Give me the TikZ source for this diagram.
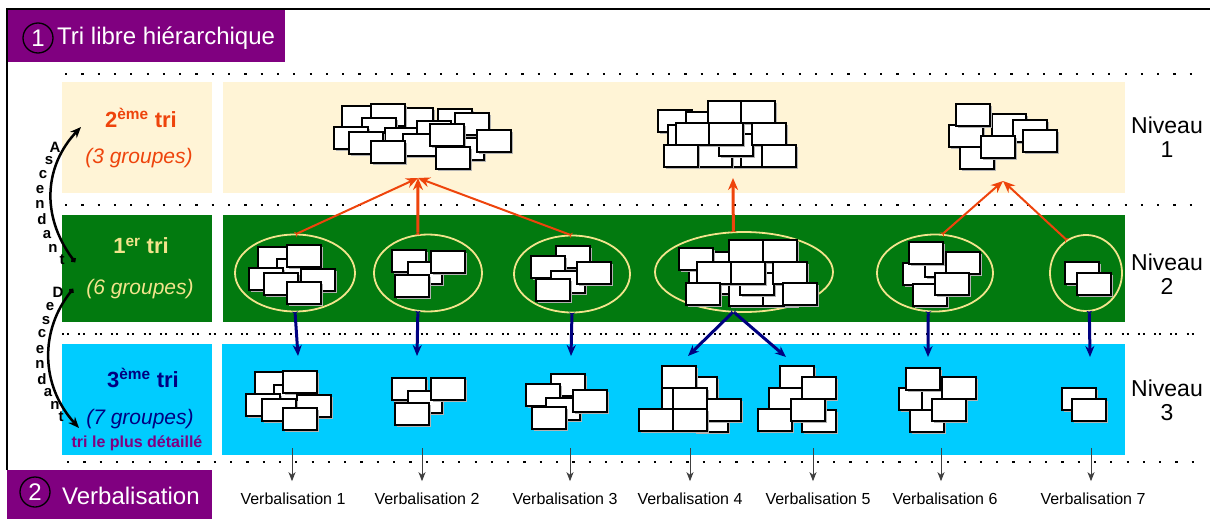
\documentclass[tikz,border=0pt]{standalone}
\usepackage{fontspec}
\setmainfont{Liberation Sans}
\usetikzlibrary{arrows.meta,shapes.geometric}

\definecolor{mauve}{RGB}{128,0,128}
\definecolor{creme}{RGB}{255,244,214}
\definecolor{vert}{RGB}{2,122,15}
\definecolor{bleuciel}{RGB}{0,204,255}
\definecolor{jaune}{RGB}{242,228,140}
\definecolor{rouge}{RGB}{238,68,12}
\definecolor{marine}{RGB}{0,0,128}

% une carte (coin haut gauche)
\def\carte(#1,#2){\fill[black!30] (#1+1.5,#2+1.5) rectangle ++(34,22); \draw[fill=white, line width=1.6pt] (#1,#2) rectangle ++(34,22);}

\tikzset{
  groupe/.style={ellipse, draw=jaune, line width=1.8pt, inner sep=0pt, outer sep=0pt},
  pointilles/.style={line width=2.2pt, dash pattern=on 2.2pt off 14.1pt},
  pointdouble/.style={line width=2.2pt, dash pattern=on 2pt off 3pt on 2pt off 9.3pt},
  rougefleche/.style={draw=rouge, line width=2pt, {Stealth[reversed,length=3pt,width=6pt]}-{Stealth[length=12pt,width=10pt]}},
  marinefleche/.style={draw=marine, line width=3pt, {Stealth[reversed,length=3pt,width=6pt]}-{Stealth[length=11pt,width=9pt]}},
  verbfleche/.style={draw=black!75, line width=1pt, -{Stealth[length=9pt,width=7pt,inset=2.5pt]}, shorten >=11pt},
  sens/.style={draw=black, line width=2.5pt, {Circle[length=5pt]}-{Stealth[length=11pt,width=9pt]}},
  lettre/.style={font=\fontsize{15}{15}\selectfont\bfseries, inner sep=0pt},
  titre/.style={text=white, font=\fontsize{24}{28}\selectfont, inner sep=0pt},
  numero/.style={circle, draw=black, line width=1.3pt, minimum size=30pt, inner sep=0pt, text=white, font=\fontsize{24}{28}\selectfont},
  tri/.style={font=\fontsize{22}{26}\selectfont\bfseries, inner sep=0pt},
  nbgroupes/.style={font=\fontsize{21}{25}\selectfont\itshape, inner sep=0pt},
  niveau/.style={align=center, font=\fontsize{23}{24}\selectfont, inner sep=0pt},
  verb/.style={font=\fontsize{16}{18}\selectfont, inner sep=0pt, anchor=base}
}

\begin{document}
\begin{tikzpicture}[x=1pt,y=-1pt]
\useasboundingbox (0,0) rectangle (1210,519);

% bandeaux
\fill[mauve] (7,8) rectangle (285,62);
\fill[mauve] (7,470) rectangle (212,519);
\draw[line width=2.2pt] (7,470) -- (7,9) -- (1210,9);
\node[numero] (n1) at (38,38) {1};
\node[titre, anchor=base west] (tit1) at (57,45) {Tri libre hiérarchique};
\node[numero] (n2) at (35,492) {2};
\node[titre, anchor=base west] (tit2) at (62,504) {Verbalisation};

% fonds des niveaux
\fill[creme] (62,82) rectangle (212,193);
\fill[creme] (223,82) rectangle (1125,193);
\fill[vert] (62,215) rectangle (212,322);
\fill[vert] (223,215) rectangle (1125,322);
\fill[bleuciel] (62,344) rectangle (212,455);
\fill[bleuciel] (222,344) rectangle (1125,455);

\draw[pointilles] (65,74) -- (1205,74);
\draw[pointilles] (65,205) -- (1205,205);
\draw[pointdouble] (62,334) -- (1200,334);
\draw[pointilles] (67,462) -- (1200,462);

% textes de gauche
\node[tri, text=rouge] (t1) at (141,118) {2\textsuperscript{ème} tri};
\node[nbgroupes, text=rouge] (t1g) at (139,158) {(3 groupes)};
\node[tri, text=jaune] (t2) at (141,246) {1\textsuperscript{er} tri};
\node[nbgroupes, text=jaune] (t2g) at (140,289) {(6 groupes)};
\node[tri, text=marine] (t3) at (143,378) {3\textsuperscript{ème} tri};
\node[nbgroupes, text=marine] (t3g) at (140,419) {(7 groupes)};
\node[font=\fontsize{16}{18}\selectfont\bfseries, text=mauve, inner sep=0pt] (t3d) at (137,443) {tri le plus détaillé};

\node[niveau] (niv1) at (1167,137) {Niveau\\1};
\node[niveau] (niv2) at (1167,274) {Niveau\\2};
\node[niveau] (niv3) at (1167,400) {Niveau\\3};

% ascendant / descendant
\draw[sens] (75,262) .. controls (40,215) and (45,165) .. (81,127);
\draw[sens] (73,289) .. controls (40,330) and (40,385) .. (79,428);
\foreach \l/\x/\y in {A/55/147, s/49/161, c/43/175, e/40/190, n/40/204, d/42/219, a/47/235, n/53/248, t/62/260}
  \node[lettre] at (\x,\y) {\l};
\foreach \l/\x/\y in {D/58/292, e/50/307, s/46/321, c/42/334, e/40/350, n/40/364, d/42/379, a/48/393, n/55/405, t/61/417}
  \node[lettre] at (\x,\y) {\l};

% groupes du 1er tri
\node[groupe, minimum width=120pt, minimum height=77pt] (g1) at (295,273) {};
\node[groupe, minimum width=108pt, minimum height=77pt] (g2) at (428,273) {};
\node[groupe, minimum width=116pt, minimum height=77pt] (g3) at (572,274) {};
\node[groupe, minimum width=178pt, minimum height=80pt] (g4) at (744,272) {};
\node[groupe, minimum width=116pt, minimum height=77pt] (g5) at (935,273) {};
\node[groupe, minimum width=72pt, minimum height=76pt] (g6) at (1086,273) {};

% cartes niveau 1
\foreach \x/\y in {342/106, 399/108, 371/104, 362/118, 385/128, 334/127, 349/132, 438/109, 455/113, 417/121, 403/134, 450/138, 430/124, 477/130, 371/141, 436/147}
  {\carte(\x,\y)}
\foreach \x/\y in {658/110, 686/112, 668/125, 742/123, 708/145, 741/145, 698/145, 719/134, 708/101, 741/101, 676/123, 709/123, 752/123, 664/145, 762/145}
  {\carte(\x,\y)}
\foreach \x/\y in {949/125, 992/114, 956/104, 1013/120, 960/147, 981/136, 1023/130}
  {\carte(\x,\y)}

% cartes niveau 2
\foreach \x/\y in {258/247, 277/259, 287/245, 249/268, 301/269, 264/273, 287/282}
  {\carte(\x,\y)}
\foreach \x/\y in {392/250, 408/262, 431/251, 395/275}
  {\carte(\x,\y)}
\foreach \x/\y in {556/246, 531/256, 551/271, 577/262, 536/279}
  {\carte(\x,\y)}
\foreach \x/\y in {708/252, 689/263, 742/262, 719/272, 729/284, 763/284, 740/273, 679/248, 729/240, 763/240, 697/262, 731/262, 773/262, 686/283, 783/283}
  {\carte(\x,\y)}
\foreach \x/\y in {903/263, 925/255, 909/242, 946/252, 913/284, 935/273}
  {\carte(\x,\y)}
\foreach \x/\y in {1065/262, 1077/273}
  {\carte(\x,\y)}

% cartes niveau 3
\foreach \x/\y in {255/372, 274/385, 283/371, 246/394, 297/395, 262/399, 283/408}
  {\carte(\x,\y)}
\foreach \x/\y in {392/378, 408/391, 431/378, 395/403}
  {\carte(\x,\y)}
\foreach \x/\y in {551/374, 526/384, 546/398, 573/390, 532/407}
  {\carte(\x,\y)}
\foreach \x/\y in {683/377, 694/410, 662/366, 662/388, 673/388, 707/399, 639/409, 673/409}
  {\carte(\x,\y)}
\foreach \x/\y in {780/366, 769/388, 802/377, 758/409, 802/410, 791/399}
  {\carte(\x,\y)}
\foreach \x/\y in {899/388, 922/388, 906/368, 942/377, 910/410, 932/399}
  {\carte(\x,\y)}
\foreach \x/\y in {1062/388, 1072/399}
  {\carte(\x,\y)}

% regroupements vers le niveau 1
\coordinate (h1) at (418,178);
\coordinate (h2) at (733,178);
\coordinate (h3) at (1003,181);
\draw[rougefleche] (g1.north) -- (h1);
\draw[rougefleche, line width=3pt] (g2.105) -- (h1);
\draw[rougefleche] (g3.north) -- (h1);
\draw[rougefleche, line width=3pt] (g4.105) -- (h2);
\draw[rougefleche] (g5.80) -- (h3);
\draw[rougefleche] (g6.120) -- (h3);

% subdivisions vers le niveau 3
\coordinate (b1) at (298,356);
\coordinate (b2) at (417,356);
\coordinate (b3) at (571,356);
\coordinate (b4) at (688,356);
\coordinate (b4d) at (786,357);
\coordinate (b5) at (928,357);
\coordinate (b6) at (1090,357);
\draw[marinefleche] (g1.south) -- (b1);
\draw[marinefleche] (g2.255) -- (b2);
\draw[marinefleche] (g3.south) -- (b3);
\draw[marinefleche] (g4.255) -- (b4);
\draw[marinefleche] (g4.255) -- (b4d);
\draw[marinefleche] (g5.260) -- (b5);
\draw[marinefleche] (g6.275) -- (b6);

% verbalisations
\foreach \i/\xa/\xv in {1/292/293, 2/422/427, 3/570/565, 4/690/690, 5/813/818, 6/941/945, 7/1091/1093} {
  \coordinate (s\i) at (\xa,448);
  \node[verb] (v\i) at (\xv,504) {Verbalisation \i};
  \draw[verbfleche] (s\i) -- (s\i |- v\i.north);
}
\end{tikzpicture}
\end{document}
